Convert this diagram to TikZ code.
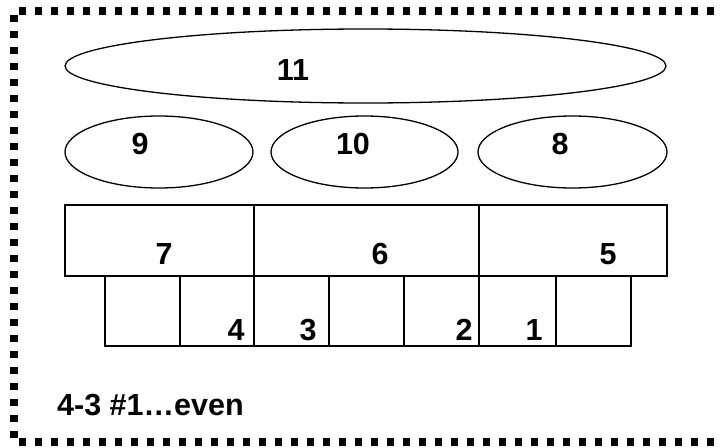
\documentclass[tikz,border=0pt]{standalone}
\usepackage{fontspec}
\setmainfont{Liberation Sans}
\usetikzlibrary{shapes.geometric}

\tikzset{
  part/.style={draw, line width=1.3pt},
  bubble/.style={ellipse, draw, line width=1.3pt, inner sep=0pt},
  numlab/.style={anchor=base, font=\fontsize{30.5}{36}\selectfont\bfseries, inner sep=0pt}
}

\begin{document}
\begin{tikzpicture}[x=1pt, y=-1pt]
    \useasboundingbox (0,0) rectangle (720,447);

    % Dotted frame
    \draw[line width=7.5pt, dash pattern=on 7pt off 9pt] (730,11) -- (14,11) -- (14,442) -- (730,442);

    % Draw ellipses
    \node[bubble, minimum width=601pt, minimum height=74pt] (e11) at (365.5,66) {};
    \node[bubble, minimum width=188pt, minimum height=72pt] (e9) at (159,152) {};
    \node[bubble, minimum width=187pt, minimum height=72pt] (e10) at (364.5,152) {};
    \node[bubble, minimum width=189pt, minimum height=72pt] (e8) at (572.5,152) {};

    % Upper row of boxes
    \draw[part] (65,205) rectangle (254,276);
    \draw[part] (254,205) rectangle (479,276);
    \draw[part] (479,205) rectangle (667,276);

    % Lower row of boxes
    \foreach \a/\b in {105/180, 180/254, 254/329, 329/404, 404/479, 479/556, 556/631}
        \draw[part] (\a,276) rectangle (\b,346);

    % Label ellipses
    \node[numlab] (l11) at (293,80) {11};
    \node[numlab] (l9) at (140,154) {9};
    \node[numlab] (l10) at (353,154) {10};
    \node[numlab] (l8) at (560,154) {8};

    % Label boxes
    \node[numlab] (l7) at (164,264) {7};
    \node[numlab] (l6) at (380,264) {6};
    \node[numlab] (l5) at (608,264) {5};
    \node[numlab] (l4) at (236,340) {4};
    \node[numlab] (l3) at (308,340) {3};
    \node[numlab] (l2) at (464,340) {2};
    \node[numlab] (l1) at (534,340) {1};

    % Caption
    \node[numlab, anchor=base west] (cap) at (57,415) {4-3 \#1…even};
\end{tikzpicture}
\end{document}
